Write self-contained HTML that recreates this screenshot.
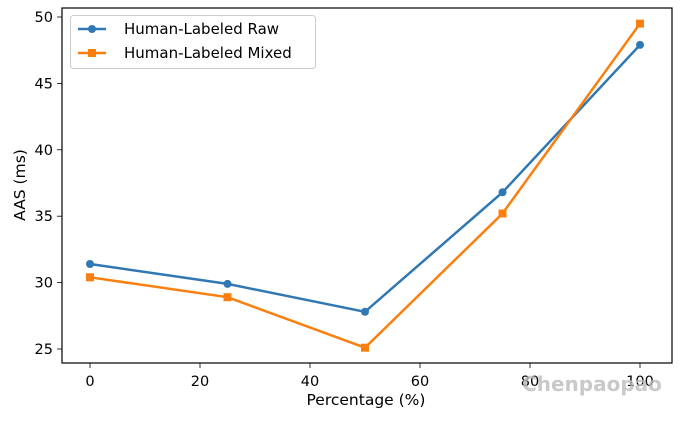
<!DOCTYPE html>
<html><head><style>body{margin:0;background:#fff}svg{display:block}text{font-family:"DejaVu Sans","Liberation Sans",sans-serif;}</style></head><body>
<svg width="688" height="421" viewBox="0 0 688 421" xmlns="http://www.w3.org/2000/svg">
<rect width="688" height="421" fill="#fff"/>
<g stroke="#000" stroke-width="0.8">
<line x1="90" y1="363" x2="90" y2="368"/><line x1="200" y1="363" x2="200" y2="368"/><line x1="310" y1="363" x2="310" y2="368"/><line x1="420" y1="363" x2="420" y2="368"/><line x1="530" y1="363" x2="530" y2="368"/><line x1="640" y1="363" x2="640" y2="368"/>
<line x1="57" y1="349" x2="62" y2="349"/><line x1="57" y1="282.6" x2="62" y2="282.6"/><line x1="57" y1="216.2" x2="62" y2="216.2"/><line x1="57" y1="149.8" x2="62" y2="149.8"/><line x1="57" y1="83.4" x2="62" y2="83.4"/><line x1="57" y1="17" x2="62" y2="17"/>
</g>
<g font-size="14.5" fill="#000" text-anchor="middle">
<text x="90" y="386">0</text><text x="200" y="386">20</text><text x="310" y="386">40</text><text x="420" y="386">60</text><text x="530" y="386">80</text><text x="640" y="386">100</text>
</g>
<text x="366" y="405" font-size="15.5" text-anchor="middle">Percentage (%)</text>
<g font-size="14.5" fill="#000" text-anchor="end">
<text x="53" y="354">25</text><text x="53" y="287.6">30</text><text x="53" y="221.2">35</text><text x="53" y="154.8">40</text><text x="53" y="88.4">45</text><text x="53" y="22">50</text>
</g>
<text transform="translate(25,185) rotate(-90)" font-size="15.5" text-anchor="middle">AAS (ms)</text>
<polyline points="90,264 227.5,283.9 365,311.8 502.5,192.3 640,44.9" fill="none" stroke="#2f78b4" stroke-width="2.5"/>
<polyline points="90,277.3 227.5,297.2 365,347.7 502.5,213.5 640,23.6" fill="none" stroke="#fb7f0e" stroke-width="2.5"/>
<g fill="#2f78b4"><circle cx="90" cy="264" r="4"/><circle cx="227.5" cy="283.9" r="4"/><circle cx="365" cy="311.8" r="4"/><circle cx="502.5" cy="192.3" r="4"/><circle cx="640" cy="44.9" r="4"/></g>
<g fill="#fb7f0e"><rect x="86" y="273.3" width="8" height="8"/><rect x="223.5" y="293.2" width="8" height="8"/><rect x="361" y="343.7" width="8" height="8"/><rect x="498.5" y="209.5" width="8" height="8"/><rect x="636" y="19.6" width="8" height="8"/></g>
<rect x="62" y="8" width="610" height="355" fill="none" stroke="#000" stroke-width="1.2"/>
<rect x="70.5" y="15.5" width="245" height="53" rx="3" fill="#fff" fill-opacity="0.8" stroke="#ccc"/>
<line x1="78" y1="29" x2="106" y2="29" stroke="#2f78b4" stroke-width="2.5"/><circle cx="92" cy="29" r="4" fill="#2f78b4"/>
<line x1="78" y1="53" x2="106" y2="53" stroke="#fb7f0e" stroke-width="2.5"/><rect x="88" y="49" width="8" height="8" fill="#fb7f0e"/>
<text x="124" y="34" font-size="15">Human-Labeled Raw</text>
<text x="124" y="58" font-size="15">Human-Labeled Mixed</text>
<text x="592" y="391" font-size="20" font-weight="bold" fill="#bbb" fill-opacity="0.8" text-anchor="middle">Chenpaopao</text>
</svg>
</body></html>
